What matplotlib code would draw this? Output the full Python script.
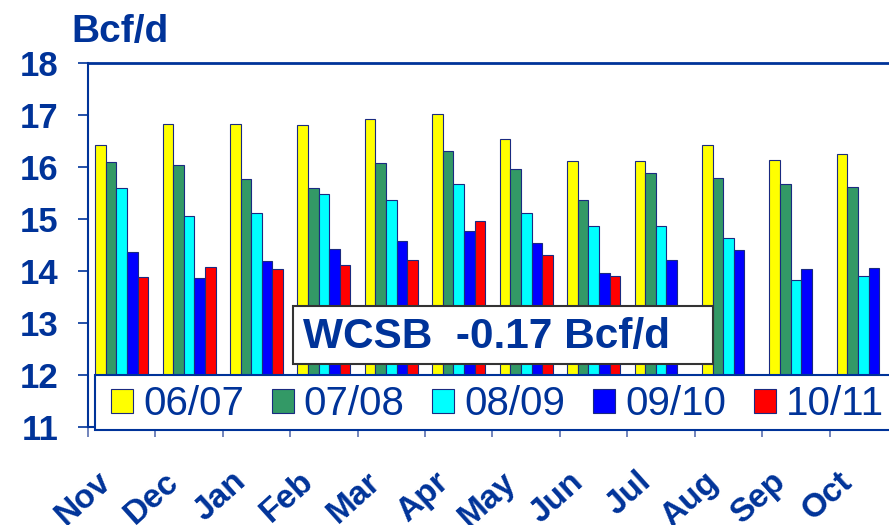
import numpy as np
import matplotlib
matplotlib.use('Agg')
import matplotlib.pyplot as plt
from matplotlib.patches import Rectangle
from matplotlib.transforms import ScaledTranslation

plt.rcParams['font.family'] = ['Liberation Sans', 'DejaVu Sans']

# data (Bcf/d)
months = ['Nov', 'Dec', 'Jan', 'Feb', 'Mar', 'Apr', 'May', 'Jun', 'Jul', 'Aug', 'Sep', 'Oct']
seasons = ['06/07', '07/08', '08/09', '09/10', '10/11']
colors = ['#ffff00', '#339966', '#00ffff', '#0000ff', '#ff0000']

s0607 = [16.42, 16.82, 16.82, 16.80, 16.92, 17.01, 16.53, 16.12, 16.12, 16.42, 16.14, 16.25]
s0708 = [16.09, 16.03, 15.76, 15.59, 16.07, 16.31, 15.97, 15.36, 15.88, 15.79, 15.68, 15.62]
s0809 = [15.59, 15.06, 15.11, 15.48, 15.37, 15.68, 15.11, 14.87, 14.87, 14.63, 13.82, 13.90]
s0910 = [14.37, 13.86, 14.19, 14.43, 14.58, 14.76, 14.54, 13.96, 14.21, 14.40, 14.03, 14.05]
s1011 = [13.88, 14.08, 14.03, 14.12, 14.22, 14.96, 14.30, 13.90]  # only to Jun

series = [s0607, s0708, s0809, s0910, s1011]

navy = '#003399'
W, H = 889, 525

fig = plt.figure(figsize=(W / 100, H / 100), dpi=100)
ax = fig.add_axes([88 / W, 1 - 427 / H, (897 - 88) / W, (427 - 63) / H])

width = 0.157
x = np.arange(len(months))
bars = []
for k, vals in enumerate(series):
    xs = x[:len(vals)] + (k - 2) * width
    b = ax.bar(xs, vals, width, color=colors[k], edgecolor='#1a2a80', linewidth=0.8, zorder=2)
    bars.append(b)

ax.set_xlim(-0.5, len(months) - 0.5)
ax.set_ylim(11, 18)

# y axis
ax.set_yticks(range(11, 19))
ax.set_yticklabels([str(v) for v in range(11, 19)], fontsize=25, fontweight='bold', color=navy)
ax.tick_params(axis='y', direction='out', length=7.2, width=1.2, color=navy, pad=14)

# x axis: tick marks between months, labels drawn as rotated text under each group
ax.set_xticks(np.arange(len(months) + 1) - 0.5)
ax.set_xticklabels([])
ax.tick_params(axis='x', which='major', direction='out', length=7.2, width=1.2, color='#5a6fb0')
lab_tr = ax.get_xaxis_transform() + ScaledTranslation(-25 / 100, -39 / 100, fig.dpi_scale_trans)
for xi, m in zip(x, months):
    ax.text(xi, 0, m, transform=lab_tr, rotation=42, ha='right', va='top',
            rotation_mode='anchor', fontsize=24, fontweight='bold', color=navy,
            clip_on=False)

for sp in ['left', 'bottom']:
    ax.spines[sp].set_color(navy)
    ax.spines[sp].set_linewidth(1.5)
ax.spines['top'].set_color(navy)
ax.spines['top'].set_linewidth(2)
ax.spines['right'].set_visible(False)

fig.text(71 / W, 1 - 42 / H, 'Bcf/d', fontsize=28, fontweight='bold', color=navy, va='baseline')

# legend box running off the right edge
fig.patches.append(Rectangle((95 / W, 1 - 430 / H), (900 - 95) / W, (430 - 375) / H,
                             transform=fig.transFigure, facecolor='white',
                             edgecolor=navy, linewidth=1.5, zorder=2))
leg = fig.legend([b[0] for b in bars], seasons, ncol=5, loc='center left',
                 bbox_to_anchor=(111 / W, 1 - 404 / H), bbox_transform=fig.transFigure,
                 frameon=False, fontsize=29, handlelength=0.546, handleheight=0.546,
                 handletextpad=0.25, columnspacing=0.69, borderaxespad=0, borderpad=0)
for t in leg.get_texts():
    t.set_color(navy)
leg.set_zorder(3)

# annotation box
fig.patches.append(Rectangle((293 / W, 1 - 364 / H), (713 - 293) / W, (364 - 306) / H,
                             transform=fig.transFigure, facecolor='white',
                             edgecolor='#333333', linewidth=1.5, zorder=6))
fig.text(303 / W, 1 - 348 / H, 'WCSB  -0.17 Bcf/d', fontsize=30.5, fontweight='bold',
         color=navy, va='baseline', zorder=7)

fig.savefig('out.png', dpi=100)
